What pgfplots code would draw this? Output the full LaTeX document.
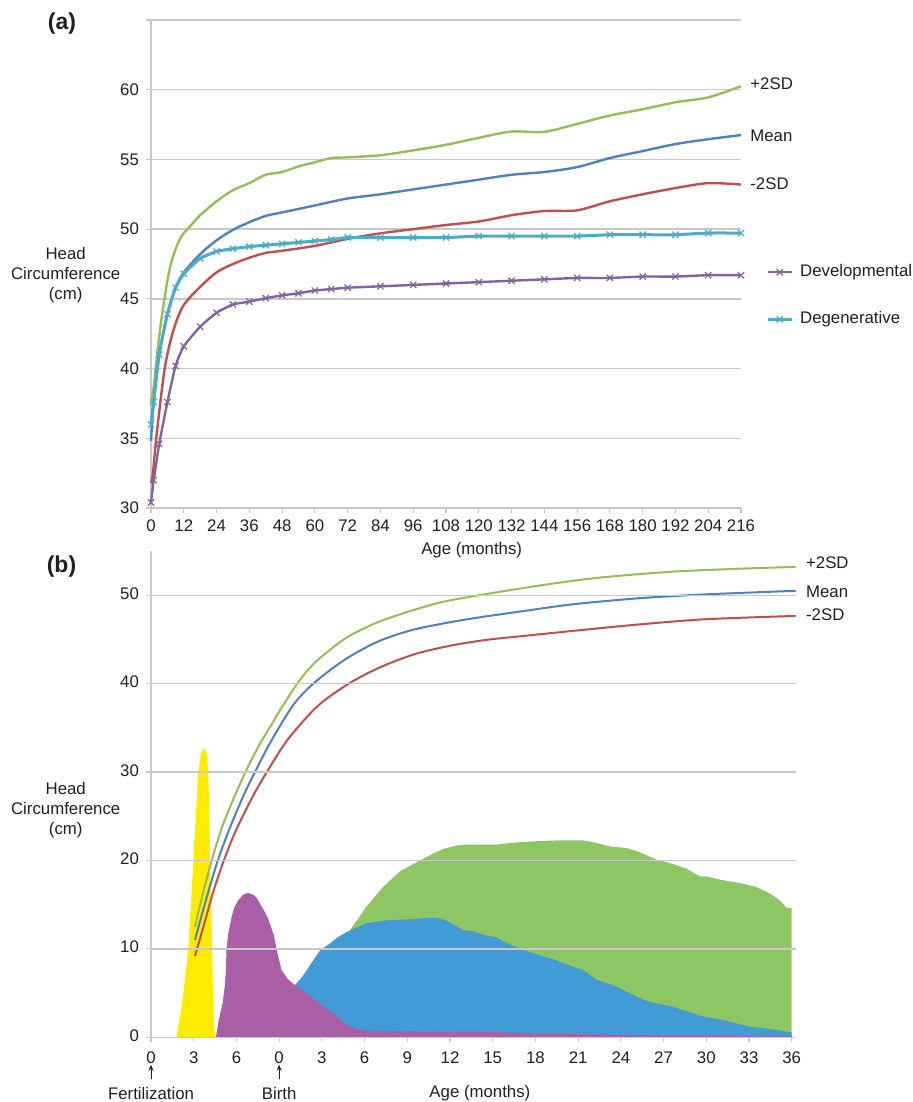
\documentclass[border=0pt]{standalone}
\usepackage{pgfplots}
\pgfplotsset{compat=1.18}
\usepackage{fontspec}
\setmainfont{Liberation Sans}
\usetikzlibrary{arrows.meta}
\definecolor{cgreen}{HTML}{9BBB59}
\definecolor{cblue}{HTML}{4F81BD}
\definecolor{cred}{HTML}{C0504D}
\definecolor{cpurple}{HTML}{8064A2}
\definecolor{ccyan}{HTML}{4BACC6}
\definecolor{ayellow}{HTML}{FFEC00}
\definecolor{apurple}{HTML}{A95FA6}
\definecolor{ablue}{HTML}{429BD5}
\definecolor{agreen}{HTML}{8DC662}
\definecolor{gridgray}{HTML}{C8C8C8}
\definecolor{txt}{HTML}{231F20}
\newcommand{\lf}{\fontsize{8.4}{10}\selectfont}
\pgfplotsset{
  base/.style={
    scale only axis,
    axis x line*=bottom, axis y line*=left,
    axis line style={draw=gridgray, line width=0.7pt},
    ymajorgrids, grid style={draw=gridgray, line width=0.7pt},
    tick align=outside, major tick length=2.5pt,
    tick style={draw=gridgray, line width=0.6pt},
    tick label style={font=\lf, text=txt},
    /pgf/number format/assume math mode=true,
    clip=false,
  }
}
\begin{document}
\begin{tikzpicture}[font=\lf, text=txt]
\useasboundingbox (0,0) rectangle (456.5pt,-551pt);
% ---------------- (a) ----------------
\begin{axis}[base,
  at={(75.5pt,-254pt)}, anchor=south west,
  width=295pt, height=244pt,
  xmin=0, xmax=216, ymin=30, ymax=65,
  xtick={0,12,...,216}, ytick={30,35,...,60},
  extra y ticks={65}, extra y tick labels={}, extra y tick style={grid=major},
  legend style={at={(rel axis cs:1.032,0.516)}, anchor=north west, draw=none, fill=none,
    font=\lf, row sep=12pt, column sep=1.5pt, legend cell align=left},
  legend image code/.code={\draw[mark repeat=2, mark phase=2, #1] plot coordinates {(0cm,0cm) (0.21cm,0cm) (0.42cm,0cm)};},
]
\addplot[cgreen, line width=1.2pt, smooth, tension=0.5, forget plot] coordinates {
(0,37.5)(1,38.7)(2,40.6)(4,43.8)(7,47.3)(10.6,49.3)(14.3,50.2)(18,51.0)(24,52.0)(30,52.8)(36,53.3)(42,53.9)(48,54.1)(54,54.5)(60,54.8)(66,55.1)(72,55.15)(84,55.3)(96,55.65)(108,56.05)(120,56.55)(132,57.0)(144,56.98)(156,57.55)(168,58.15)(180,58.6)(192,59.1)(204,59.45)(216,60.25)};
\addplot[cblue, line width=1.2pt, smooth, tension=0.5, forget plot] coordinates {
(0,34.8)(1,37.6)(3,41.0)(6,43.9)(9,45.8)(12,46.9)(18,48.2)(24,49.2)(30,49.95)(36,50.5)(42,50.95)(48,51.2)(60,51.7)(72,52.2)(84,52.5)(96,52.85)(108,53.2)(120,53.55)(132,53.9)(144,54.1)(156,54.45)(168,55.1)(180,55.6)(192,56.1)(204,56.45)(216,56.75)};
\addplot[cred, line width=1.2pt, smooth, tension=0.5, forget plot] coordinates {
(0,31.8)(0.6,32.3)(2.1,35.35)(5.1,40.1)(8.2,42.74)(11.8,44.5)(17.9,45.84)(24,46.9)(30,47.5)(36,47.95)(42,48.3)(48,48.45)(60,48.8)(72,49.3)(84,49.7)(96,50.0)(108,50.3)(120,50.55)(132,51.0)(144,51.3)(156,51.35)(168,52.0)(180,52.5)(192,52.95)(204,53.3)(216,53.2)};
\addplot[cpurple, line width=1.2pt, smooth, tension=0.3, mark=x, mark size=2.2pt, mark options={line width=0.6pt}] coordinates {
(0,30.4)(1,32.0)(3,34.6)(6,37.6)(9,40.2)(12,41.6)(18,43.0)(24,44.0)(30,44.6)(36,44.8)(42,45.05)(48,45.25)(54,45.4)(60,45.6)(66,45.7)(72,45.8)(84,45.9)(96,46.0)(108,46.1)(120,46.2)(132,46.3)(144,46.4)(156,46.5)(168,46.5)(180,46.6)(192,46.6)(204,46.7)(216,46.7)};
\addlegendentry{Developmental}
\addplot[ccyan, line width=1.5pt, smooth, tension=0.3, mark=x, mark size=2.2pt, mark options={line width=0.6pt}] coordinates {
(0,36.0)(1,37.6)(3,41.0)(6,43.9)(9,45.8)(12,46.8)(18,47.9)(24,48.4)(30,48.6)(36,48.75)(42,48.85)(48,48.95)(54,49.05)(60,49.15)(66,49.25)(72,49.4)(84,49.4)(96,49.4)(108,49.4)(120,49.5)(132,49.5)(144,49.5)(156,49.5)(168,49.6)(180,49.6)(192,49.6)(204,49.72)(216,49.72)};
\addlegendentry{Degenerative}
\node[anchor=west, inner sep=0pt] at (axis cs:216,60.45) [xshift=4.5pt] {+2SD};
\node[anchor=west, inner sep=0pt] at (axis cs:216,56.7) [xshift=4.5pt] {Mean};
\node[anchor=west, inner sep=0pt] at (axis cs:216,53.24) [xshift=4.5pt] {-2SD};
\node[align=center, inner sep=0pt] at (rel axis cs:-0.1446,0.478) {Head\\Circumference\\(cm)};
\node at (axis cs:117.4,27.0) {Age (months)};
\node[font=\fontsize{11.5}{13}\selectfont\bfseries] at (rel axis cs:-0.1508,0.992) {(a)};
\end{axis}
% ---------------- (b) ----------------
\begin{axis}[base,
  at={(75.5pt,-518.65pt)}, anchor=south west,
  width=322.5pt, height=243.15pt,
  xmin=0, xmax=45.3, ymin=0, ymax=55,
  xtick={0,3,...,45},
  xticklabels={0,3,6,0,3,6,9,12,15,18,21,24,27,30,33,36},
  typeset ticklabels with strut,
  ytick={0,10,...,50},
  axis on top,
]
\addplot[fill=agreen, draw=none] coordinates {
(13.97,12.1)(15.14,14.8)(16.3,17.0)(17.5,18.8)(19.36,20.4)(20.5,21.3)(21.5,21.7)(22.16,21.8)(24.26,21.8)(25.67,22.04)(27.3,22.2)(28.48,22.27)(30.35,22.27)(31.05,22.08)(32.2,21.6)(33.4,21.4)(34.3,20.95)(35.5,20.1)(36.67,19.6)(37.6,19.07)(38.54,18.2)(39.0,18.2)(39.95,17.83)(41.35,17.45)(42.5,17.0)(43.44,16.3)(44.16,15.5)(44.62,14.67)(45,14.6)} \closedcycle;
\addplot[fill=ablue, draw=none] coordinates {
(10.1,5.9)(10.6,6.8)(11.4,8.7)(11.9,9.9)(12.57,10.6)(13.1,11.3)(13.74,11.9)(14.4,12.4)(15.14,12.9)(16.3,13.2)(17.5,13.3)(19.0,13.45)(19.82,13.55)(20.29,13.45)(20.76,13.2)(21.34,12.67)(21.93,12.1)(22.6,12.0)(23.3,11.6)(24.26,11.3)(24.96,10.7)(25.9,10.0)(27.3,9.3)(28.48,8.7)(29.65,7.97)(30.35,7.6)(31.29,6.5)(32.46,5.9)(33.2,5.3)(33.87,4.77)(34.3,4.47)(35.03,4.0)(36.67,3.45)(38.54,2.44)(40.18,1.95)(42.05,1.2)(43.69,0.9)(45,0.56)} \closedcycle;
\addplot[fill=apurple, draw=none] coordinates {
(4.56,0)(4.75,1.9)(5.03,3.85)(5.2,6)(5.27,8)(5.3,10)(5.43,11.75)(5.66,13.6)(5.85,14.7)(6.13,15.5)(6.45,16.1)(6.81,16.35)(7.2,16.1)(7.45,15.7)(7.65,15.1)(7.95,14.3)(8.23,13.4)(8.45,12.4)(8.65,11.4)(8.85,9.7)(9.17,7.6)(9.6,6.6)(10.1,5.9)(10.9,5.0)(12.0,3.65)(12.8,2.7)(13.4,1.9)(13.96,1.2)(14.5,0.9)(15.2,0.75)(18,0.7)(21,0.6)(22,0.65)(24,0.6)(27,0.45)(30,0.35)(33,0.3)(36,0.2)(40,0.15)(45,0.1)} \closedcycle;
\addplot[fill=ayellow, draw=none] coordinates {
(1.8,0)(2.05,2.5)(2.27,5)(2.62,10)(2.8,15)(2.97,20)(3.15,25)(3.32,30)(3.52,32.2)(3.72,32.7)(3.9,32.2)(4.02,30)(4.1,25)(4.14,20)(4.22,15)(4.3,10)(4.35,5)(4.42,2.5)(4.49,0)} \closedcycle;
\addplot[cgreen, line width=1pt, smooth, tension=0.5] coordinates {
(3.09,12.5)(3.6,16.0)(4.26,20)(5.0,23.8)(5.8,27.0)(6.72,30.3)(7.65,33.2)(8.4,35.2)(9.06,37.0)(10.23,39.9)(11.0,41.5)(11.86,42.9)(13.73,45.2)(15.85,46.9)(18.18,48.2)(20.5,49.25)(22.87,49.95)(25.9,50.75)(29,51.5)(32,52.07)(36.67,52.67)(41.35,53.0)(45.28,53.2)};
\addplot[cblue, line width=1pt, smooth, tension=0.5] coordinates {
(3.09,11.0)(3.8,15.2)(4.61,19.6)(5.3,22.7)(5.9,25.1)(6.6,27.7)(7.3,30.0)(8.47,33.6)(10.0,37.6)(11.4,40.0)(13.5,42.6)(15.85,44.7)(18.18,46.0)(20.5,46.8)(22.87,47.45)(25.9,48.15)(29.65,48.98)(34.3,49.66)(39,50.1)(45.28,50.5)};
\addplot[cred, line width=1pt, smooth, tension=0.5] coordinates {
(3.09,9.2)(3.8,13.2)(4.4,16.6)(5.07,19.8)(5.8,22.8)(6.47,25.1)(7.3,27.7)(8.17,30.1)(9.52,33.5)(11.16,36.6)(12.33,38.3)(14.2,40.3)(16.3,42.0)(18.65,43.4)(21.2,44.35)(23.55,44.95)(25.9,45.35)(29.65,45.97)(34.3,46.7)(39,47.29)(45.28,47.66)};
\node[anchor=west, inner sep=0pt] at (axis cs:45.28,53.7) [xshift=5pt] {+2SD};
\node[anchor=west, inner sep=0pt] at (axis cs:45.28,50.4) [xshift=5pt] {Mean};
\node[anchor=west, inner sep=0pt] at (axis cs:45.28,47.77) [xshift=5pt] {-2SD};
\node[align=center, inner sep=0pt] at (rel axis cs:-0.1322,0.467) {Head\\Circumference\\(cm)};
\draw[-{Stealth[length=3pt,width=2.5pt]}, txt, line width=0.5pt] (axis cs:0,-4.7) -- (axis cs:0,-3.1);
\draw[-{Stealth[length=3pt,width=2.5pt]}, txt, line width=0.5pt] (axis cs:9,-4.7) -- (axis cs:9,-3.1);
\node at (axis cs:0,-6.3) {Fertilization};
\node at (axis cs:9,-6.3) {Birth};
\node at (axis cs:23.1,-6.3) {Age (months)};
\node[font=\fontsize{11.5}{13}\selectfont\bfseries] at (rel axis cs:-0.1388,0.969) {(b)};
\end{axis}
\end{tikzpicture}
\end{document}
